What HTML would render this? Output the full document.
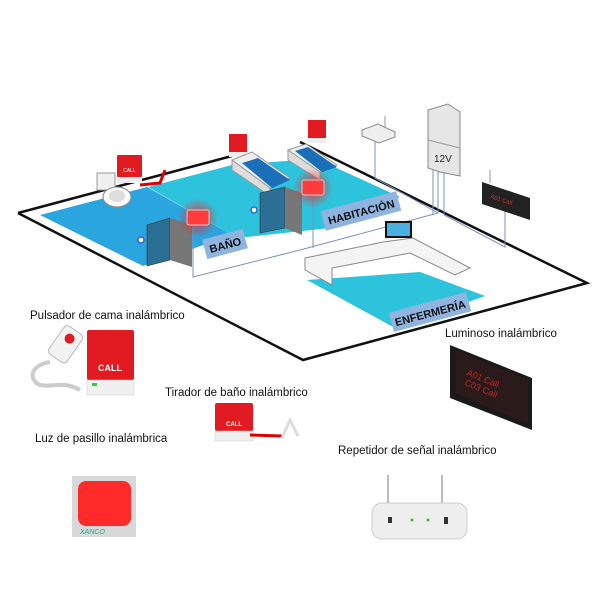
<!DOCTYPE html>
<html><head><meta charset="utf-8"><style>
body{margin:0;background:#fff}
svg{display:block}
text{font-family:"Liberation Sans",sans-serif}
</style></head><body>
<svg width="600" height="600" viewBox="0 0 600 600" xmlns="http://www.w3.org/2000/svg">
<defs>
<radialGradient id="glow"><stop offset="0" stop-color="#ff2020" stop-opacity=".9"/><stop offset="1" stop-color="#ff2020" stop-opacity="0"/></radialGradient>
</defs>
<!-- floors -->
<polygon points="40,215 147,187 232,235 143,266" fill="#2aa5df"/>
<polygon points="148,187 232,165 300,160 330,165 400,197 330,228 247,237 232,235" fill="#2dc3dc"/>
<polygon points="307,280 420,272 485,296 395,328" fill="#2dc3dc"/>
<!-- outer floor outline -->
<polyline points="18,213 232,156" fill="none" stroke="#111" stroke-width="2.5"/>
<polyline points="300,142 587,283 303,360 18,213" fill="none" stroke="#111" stroke-width="2.5"/>
<!-- wiring -->
<g fill="none" stroke="#7a8fc0" stroke-width="1">
<polyline points="193,228 193,277 300,250"/>
<polyline points="300,250 438,213 438,170"/>
<polyline points="375,142 375,178 438,213"/>
<polyline points="433,170 433,215"/>
<polyline points="444,170 444,215 505,247 505,207"/>
<polyline points="313,198 313,248"/>
</g>
<!-- toilet -->
<rect x="97" y="173" width="18" height="17" fill="#f0f0f0" stroke="#999"/>
<ellipse cx="117" cy="197" rx="14" ry="10" fill="#fafafa" stroke="#888"/>
<ellipse cx="117" cy="196" rx="8" ry="6" fill="#ddd"/>
<path d="M140 185 L160 183 L165 170" fill="none" stroke="#d00" stroke-width="3"/>
<!-- call units -->
<rect x="117" y="155" width="25" height="22" rx="1" fill="#e21b22"/><rect x="117" y="177" width="25" height="6" fill="#eee"/>
<text x="129.5" y="172" font-size="5" fill="#fff" text-anchor="middle">CALL</text>
<rect x="229" y="134" width="18" height="18" fill="#e21b22"/><rect x="229" y="152" width="18" height="5" fill="#eee"/>
<rect x="308" y="120" width="18" height="18" fill="#e21b22"/><rect x="308" y="138" width="18" height="5" fill="#eee"/>
<!-- beds -->
<polygon points="232,160 252,152 290,178 270,188" fill="#eee" stroke="#999"/>
<polygon points="242,163 258,158 290,180 272,188" fill="#1a6fb8"/>
<polygon points="232,160 270,188 270,196 232,170" fill="#ddd" stroke="#999"/>
<polygon points="288,150 306,144 337,165 320,172" fill="#eee" stroke="#999"/>
<polygon points="295,151 308,147 337,167 322,172" fill="#1a6fb8"/>
<polygon points="288,150 320,172 320,180 288,160" fill="#ddd" stroke="#999"/>
<!-- walls & doors -->
<polygon points="147,225 170,218 170,260 147,266" fill="#2c6f94" stroke="#333" stroke-width=".6"/>
<polygon points="170,218 192,225 192,267 170,260" fill="#777"/>
<circle cx="141" cy="240" r="3" fill="#fff" stroke="#36c" stroke-width="1.5"/>
<polygon points="260,193 285,187 285,228 260,233" fill="#2c6f94" stroke="#333" stroke-width=".6"/>
<polygon points="285,187 302,193 302,235 285,228" fill="#777"/>
<circle cx="254" cy="210" r="3" fill="#fff" stroke="#36c" stroke-width="1.5"/>
<!-- glows -->
<circle cx="198" cy="218" r="20" fill="url(#glow)"/>
<rect x="187" y="210" width="22" height="15" rx="2" fill="#ff3b3b" stroke="#ccc"/>
<circle cx="313" cy="188" r="20" fill="url(#glow)"/>
<rect x="302" y="180" width="22" height="15" rx="2" fill="#ff3b3b" stroke="#ccc"/>
<!-- labels on floor -->
<g transform="rotate(-15 225 244)"><rect x="204" y="234" width="42" height="20" fill="#8fb4e0"/><text x="225" y="249" font-size="11" font-weight="bold" text-anchor="middle" fill="#111">BAÑO</text></g>
<g transform="rotate(-15 361 211)"><rect x="322" y="201" width="78" height="20" fill="#8fb4e0"/><text x="361" y="216" font-size="11" font-weight="bold" text-anchor="middle" fill="#111">HABITACIÓN</text></g>
<g transform="rotate(-15 430 312)"><rect x="390" y="302" width="80" height="20" fill="#8fb4e0"/><text x="430" y="317" font-size="11" font-weight="bold" text-anchor="middle" fill="#111">ENFERMERÍA</text></g>
<!-- nurse counter -->
<polygon points="305,258 383,242 413,238 470,268 455,275 410,253 332,268 332,285 305,270" fill="#f4f4f4" stroke="#888"/>
<rect x="386" y="222" width="25" height="15" fill="#4ab0e0" stroke="#111" stroke-width="2"/>
<!-- router / power box / display -->
<polygon points="362,130 378,124 395,132 395,137 379,143 362,136" fill="#eee" stroke="#888"/>
<line x1="385" y1="128" x2="385" y2="116" stroke="#999"/>
<polygon points="428,110 448,104 460,112 460,176 440,172 428,168" fill="#e6e6e6" stroke="#888"/>
<line x1="428" y1="140" x2="460" y2="148" stroke="#999"/>
<text x="434" y="162" font-size="10" fill="#222">12V</text>
<polygon points="482,182 530,198 530,220 482,204" fill="#222"/>
<text x="490" y="198" font-size="6" fill="#c33" transform="rotate(18 490 198)">A01 Call</text>
<line x1="490" y1="170" x2="490" y2="183" stroke="#999"/>
<!-- product labels -->
<g font-size="11.5" fill="#111">
<text x="30" y="319">Pulsador de cama inalámbrico</text>
<text x="445" y="337">Luminoso inalámbrico</text>
<text x="165" y="396">Tirador de baño inalámbrico</text>
<text x="35" y="442">Luz de pasillo inalámbrica</text>
<text x="338" y="454">Repetidor de señal inalámbrico</text>
</g>
<!-- pulsador product -->
<g transform="rotate(35 70 345)"><rect x="55" y="330" width="22" height="34" rx="4" fill="#f2f2f2" stroke="#bbb"/><circle cx="66" cy="340" r="5" fill="#e21b22"/></g>
<path d="M50 362 C30 365 28 380 40 385 C52 388 62 380 80 390" fill="none" stroke="#ccc" stroke-width="4"/>
<rect x="87" y="330" width="47" height="50" rx="2" fill="#e21b22"/>
<rect x="87" y="380" width="47" height="15" fill="#f0f0f0" stroke="#ccc" stroke-width=".5"/>
<text x="110" y="371" font-size="9" font-weight="bold" fill="#fff" text-anchor="middle">CALL</text>
<rect x="92" y="383" width="5" height="3" fill="#3c3"/>
<!-- tirador product -->
<rect x="215" y="403" width="38" height="28" rx="2" fill="#e21b22"/>
<rect x="215" y="431" width="38" height="10" fill="#f0f0f0" stroke="#ccc" stroke-width=".5"/>
<text x="234" y="426" font-size="6" font-weight="bold" fill="#fff" text-anchor="middle">CALL</text>
<path d="M250 435 L282 436" stroke="#d00" stroke-width="3"/>
<path d="M282 438 L290 420 L298 436" fill="none" stroke="#ddd" stroke-width="3"/>
<!-- luz de pasillo -->
<rect x="72" y="476" width="64" height="61" fill="#d8d8d8"/>
<rect x="78" y="481" width="53" height="45" rx="8" fill="#ff2a2a"/>
<text x="80" y="534" font-size="7" fill="#2a8" font-style="italic">XANCO</text>
<!-- luminoso display -->
<polygon points="450,345 532,378 532,430 450,398" fill="#1a1a1a"/>
<polygon points="456,350 528,380 528,424 456,393" fill="#2a1a1a"/>
<text x="466" y="375" font-size="9" fill="#c22" transform="rotate(22 466 375)">A01 Call</text>
<text x="464" y="385" font-size="9" fill="#c22" transform="rotate(22 464 385)">C03 Call</text>
<!-- repetidor -->
<line x1="388" y1="475" x2="388" y2="505" stroke="#bbb" stroke-width="2"/>
<line x1="442" y1="475" x2="442" y2="505" stroke="#bbb" stroke-width="2"/>
<rect x="372" y="503" width="95" height="36" rx="10" fill="#eee" stroke="#ccc"/>
<rect x="388" y="517" width="4" height="6" fill="#333"/><rect x="444" y="517" width="4" height="7" fill="#333"/>
<circle cx="412" cy="520" r="1.5" fill="#3c3"/><circle cx="428" cy="520" r="1.5" fill="#3c3"/>
</svg>
</body></html>
